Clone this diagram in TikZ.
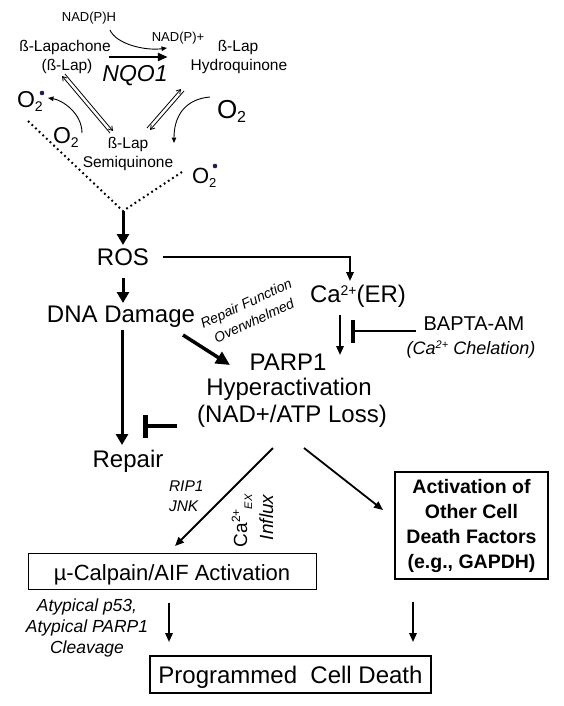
\documentclass[tikz,border=0pt]{standalone}
\usepackage{fontspec}
\setmainfont{Liberation Sans}
\usetikzlibrary{arrows.meta}
\definecolor{dotblue}{HTML}{1C1C5C}
\newcommand{\fsz}[1]{\fontsize{#1}{#1}\selectfont}
\newcommand{\fsl}[2]{\fontsize{#1}{#2}\selectfont}
\begin{document}
\begin{tikzpicture}[x=1pt,y=-1pt,
  every node/.style={inner sep=0pt, outer sep=0pt},
  lbl/.style={anchor=base, font=\fsz{24}},
  small/.style={anchor=base, font=\fsz{15.5}},
  thinarr/.style={line width=0.9pt, -{Triangle[length=5.5pt,width=4.5pt]}},
  eqarr/.style={line width=0.8pt, -{Straight Barb[length=4pt,width=5pt]}},
  bigarr/.style={line width=3pt, -{Triangle[length=11pt,width=12pt]}},
  medarr/.style={line width=1.8pt, -{Triangle[length=9pt,width=7.5pt]}},
  dotline/.style={line width=2pt, dash pattern=on 1.8pt off 3.2pt},
]
\useasboundingbox (0,0) rectangle (563,706);

% ---- top reaction scheme ----
\node[anchor=base, font=\fsz{13}] (nadh) at (89,22) {NAD(P)H};
\node[anchor=base, font=\fsz{13}] (nadp) at (178,42) {NAD(P)+};
\node[small] (lap) at (65,52) {ß-Lapachone};
\node[small] (lapb) at (67,71) {(ß-Lap)};
\node[anchor=base, font=\fsz{23}\itshape] (nqo) at (135,82) {NQO1};
\node[small] (hq1) at (238,52) {ß-Lap};
\node[small] (hq2) at (239,71) {Hydroquinone};
\node[small] (sq1) at (128,148) {ß-Lap};
\node[small] (sq2) at (128,167) {Semiquinone};
\node[anchor=base west, font=\fsz{23}] (o2a) at (17,108) {O\raisebox{-4pt}{\fsz{14}2}};
\node[anchor=base west, font=\fsz{23}] (o2m) at (53,143) {O\raisebox{-4pt}{\fsz{14}2}};
\node[anchor=base west, font=\fsz{26}] (o2r) at (217,118) {O\raisebox{-4pt}{\fsz{16}2}};
\node[anchor=base west, font=\fsz{22}] (o2b) at (192,183) {O\raisebox{-4pt}{\fsz{13}2}};
\fill[dotblue] ([xshift=25pt,yshift=15pt]o2a.base west) circle (2.3pt);
\fill[dotblue] ([xshift=23pt,yshift=17pt]o2b.base west) circle (2.3pt);
\coordinate (vj) at (123,211);

\draw[line width=2.6pt, -{Triangle[length=10pt,width=8pt]}] ([xshift=-2pt,yshift=-5pt]lap.base east) -- ([xshift=-50pt,yshift=-5pt]hq1.base west);
\draw[thinarr] ([xshift=21pt,yshift=-8pt]nadh.base) .. controls +(6,14) and +(-22,3) .. ([xshift=-11pt,yshift=-6pt]nadp.base);
\draw[thinarr] ([xshift=29pt,yshift=10pt]o2m.base west) .. controls +(0,-20) and +(14,2) .. ([xshift=31pt,yshift=10pt]o2a.base west);
\draw[thinarr] ([xshift=-7pt,yshift=21pt]o2r.base west) .. controls +(-24,2) and +(0,-28) .. ([xshift=46pt,yshift=5pt]sq1.base);
\draw[eqarr] ([xshift=-18pt,yshift=15pt]sq1.base) -- ([xshift=-5pt,yshift=-5pt]lapb.base);
\draw[eqarr] ([xshift=-2pt,yshift=-3pt]lapb.base) -- ([xshift=-15pt,yshift=17pt]sq1.base);
\draw[eqarr] ([xshift=19pt,yshift=20pt]sq1.base) -- ([xshift=-58pt,yshift=-18pt]hq2.base);
\draw[eqarr] ([xshift=-55pt,yshift=-20pt]hq2.base) -- ([xshift=22pt,yshift=18pt]sq1.base);
\draw[dotline] ([xshift=11pt,yshift=-13pt]o2a.base west) -- (vj);
\draw[dotline] ([xshift=-10pt,yshift=11pt]o2b.base west) -- (vj);

% ---- middle ----
\node[lbl] (ros) at (123,265) {ROS};
\node[lbl] (dna) at (121,322) {DNA Damage};
\node[anchor=base west, font=\fsz{24}] (ca) at (310,302) {Ca\raisebox{7pt}{\fsz{14}2+}(ER)};
\node[anchor=base, font=\fsz{20}] (bapta) at (474,330) {BAPTA-AM};
\node[anchor=base, font=\fsz{18}\itshape] (chel) at (471,354) {(Ca\raisebox{6pt}{\fsz{11}2+} Chelation)};
\node[rotate=25, font=\fsl{14}{19}\itshape, align=center] (rfo) at (250,312) {Repair Function\\Overwhelmed};
\node[lbl] (parp) at (288,370) {PARP1};
\node[lbl] (hyper) at (289,395) {Hyperactivation};
\node[lbl] (nad) at (292,422) {(NAD+/ATP Loss)};
\node[lbl] (rep) at (128,467) {Repair};

\draw[bigarr] (vj) -- ([yshift=20pt]ros.base);
\draw[bigarr] ([yshift=-13pt]ros.base) -- ([xshift=2pt,yshift=19pt]dna.base);
\draw[medarr] ([xshift=14pt,yshift=8pt]ros.base east) -| ([xshift=40pt,yshift=21pt]ca.base west);
\draw[bigarr] ([xshift=1pt,yshift=-8pt]dna.base) -- ([xshift=-6pt,yshift=22pt]rep.base);
\draw[line width=3.5pt, -{Triangle[length=14pt,width=13pt]}] ([xshift=62pt,yshift=-13pt]dna.base) -- ([xshift=-58pt,yshift=5pt]parp.base);
\draw[medarr] ([xshift=30pt,yshift=-13pt]ca.base west) -- ([xshift=52pt,yshift=15pt]parp.base);
\draw[line width=2pt, -{Bar[width=23pt,line width=3.5pt]}] ([xshift=-8pt,yshift=-1pt]bapta.base west) -- ([xshift=41pt,yshift=-29pt]ca.base west);
\draw[line width=3.5pt, -{Bar[width=23pt,line width=4.5pt]}] ([xshift=-20pt,yshift=-4pt]nad.base west) -- ([xshift=15pt,yshift=41pt]rep.base);

% ---- bottom ----
\node[anchor=north west, font=\fsl{15.5}{20}\itshape, align=left] (rip) at (169,481) {RIP1\\JNK};
\node[rotate=90, anchor=base west, font=\fsz{19}] (caex) at (247,547) {Ca\raisebox{7pt}{\fsz{12}2+}\raisebox{-5pt}{\fsz{11}\itshape EX}};
\node[rotate=90, anchor=base west, font=\fsz{19}\itshape] (influx) at (273,540) {Influx};
\node[draw, line width=1pt, minimum width=288pt, minimum height=36pt, text height=18pt, text depth=0pt, font=\fsz{22}] (calp) at (172,571) {µ-Calpain/AIF Activation};
\node[draw, line width=1.8pt, minimum width=153pt, minimum height=107pt, align=center, font=\fsl{19.5}{25}\bfseries] (act) at (471.5,525.5) {Activation of\\Other Cell\\Death Factors\\(e.g., GAPDH)};
\node[font=\fsl{17.5}{21}\itshape, align=center] (atyp) at (87,627.5) {Atypical p53,\\Atypical PARP1\\Cleavage};
\node[draw, line width=2pt, minimum width=281pt, minimum height=37pt, text height=17pt, text depth=0pt, font=\fsz{24}] (pcd) at (290.5,674.5) {Programmed\ \ Cell Death};

\draw[medarr] ([xshift=-19pt,yshift=-26pt]nad.base) -- ([xshift=3pt,yshift=7pt]calp.north);
\draw[medarr] ([xshift=12pt,yshift=-26pt]nad.base) -- ([xshift=-12pt,yshift=15.5pt]act.west);
\draw[medarr] ([xshift=-3pt,yshift=-14pt]calp.south) -- ([xshift=-121.5pt,yshift=14pt]pcd.north);
\draw[medarr] ([xshift=-58.5pt,yshift=-23pt]act.south) -- ([xshift=122.5pt,yshift=14pt]pcd.north);
\end{tikzpicture}
\end{document}
